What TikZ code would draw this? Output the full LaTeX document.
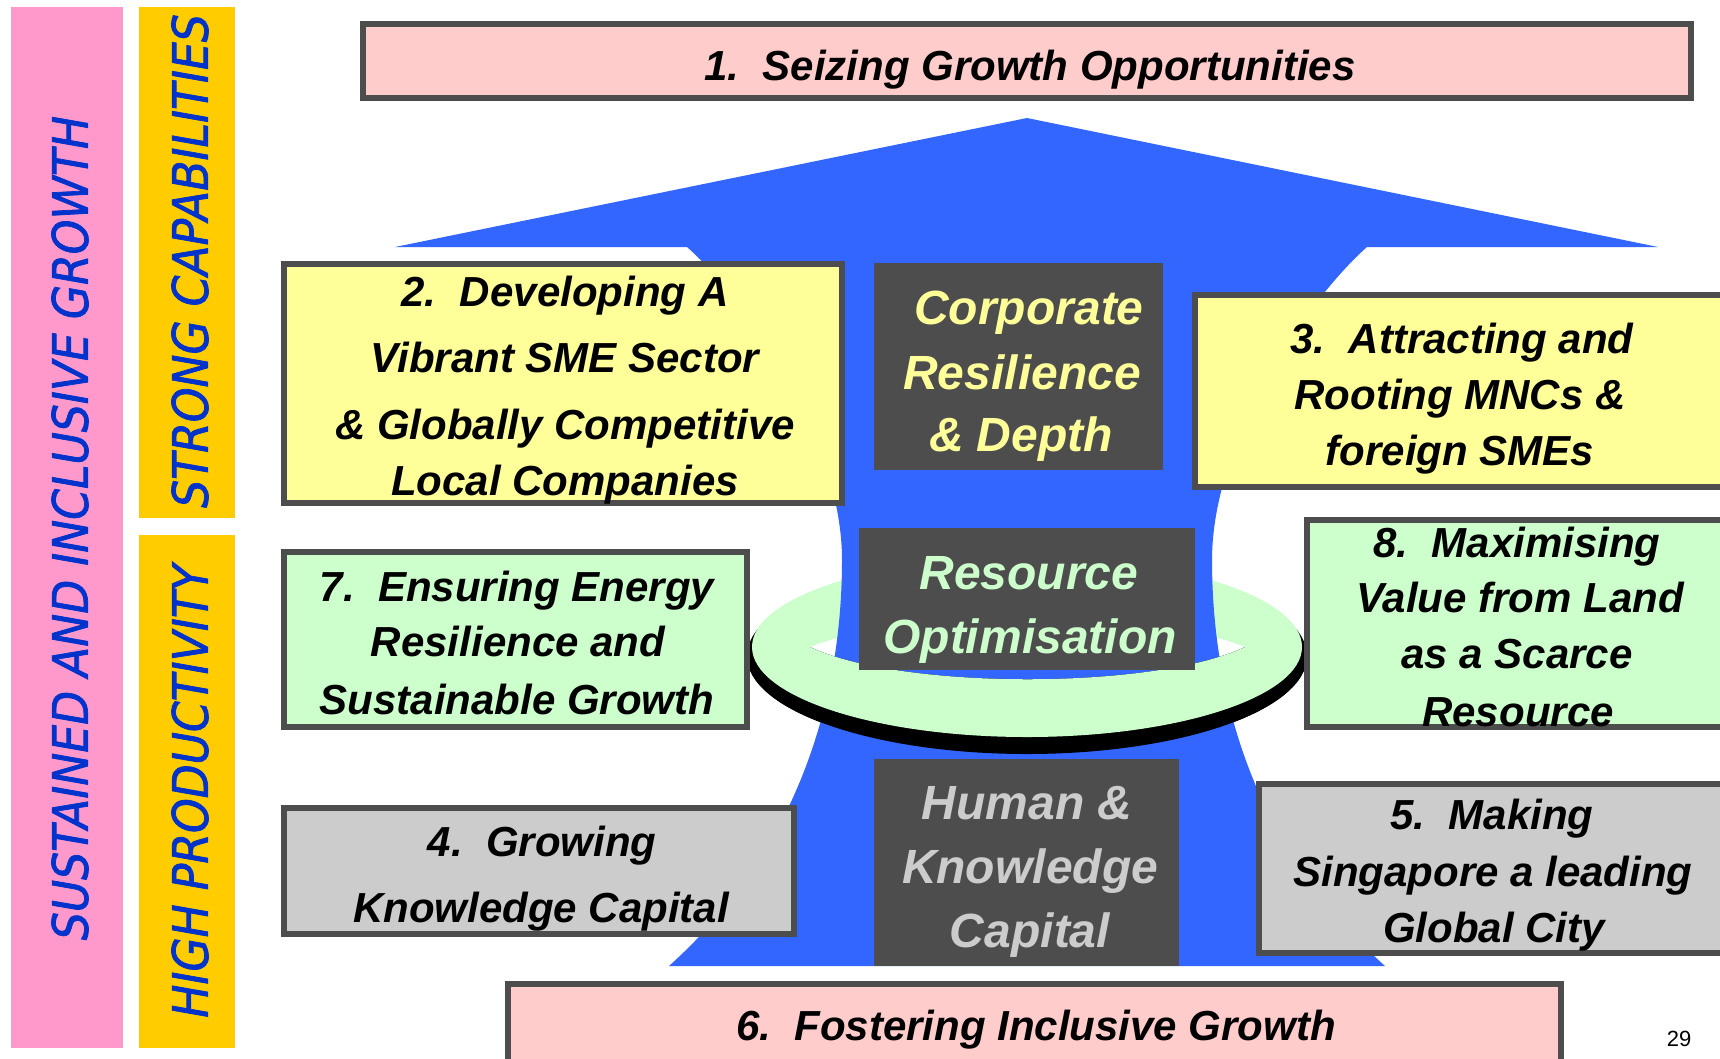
\documentclass[tikz,border=0pt]{standalone}
\usepackage{fontspec}
\setmainfont{Liberation Sans}
\newfontfamily\sidefont[FakeStretch=0.9,FakeBold=1.5]{DejaVu Sans}
\definecolor{pinkbar}{HTML}{FF99CC}
\definecolor{yellowbar}{HTML}{FFCC00}
\definecolor{sideblue}{HTML}{0033CC}
\definecolor{boxpink}{HTML}{FFCCCC}
\definecolor{boxyellow}{HTML}{FFFF99}
\definecolor{boxgreen}{HTML}{CCFFCC}
\definecolor{boxgray}{HTML}{CCCCCC}
\definecolor{bordc}{HTML}{4D4D4D}
\definecolor{darkc}{HTML}{4D4D4D}
\definecolor{arrowblue}{HTML}{3366FF}
\tikzset{
  lbl/.style={font=\bfseries\itshape\fontsize{42}{50}\selectfont, anchor=base, inner sep=0pt},
  dlbl/.style={font=\bfseries\itshape\fontsize{48}{56}\selectfont, anchor=base, inner sep=0pt},
  frame/.style={draw=bordc, line width=6pt, inner sep=0pt, outer sep=0pt},
  plain/.style={inner sep=0pt, outer sep=0pt},
  side/.style={font=\sidefont\itshape\fontsize{49}{55}\selectfont, text=sideblue, rotate=90, inner sep=0pt},
}
\begin{document}
\begin{tikzpicture}[x=1pt,y=-1pt]
\useasboundingbox (0,0) rectangle (1720,1058);
\clip (0,0) rectangle (1720,1058);
\fill[white] (0,0) rectangle (1720,1058);

% side bars
\node[plain, fill=pinkbar, minimum width=112pt, minimum height=1041pt] (pbar) at (67,527.5) {};
\node[plain, fill=yellowbar, minimum width=96pt, minimum height=511pt] (ybar1) at (187,262.5) {};
\node[plain, fill=yellowbar, minimum width=96pt, minimum height=513pt] (ybar2) at (187,791.5) {};
\node[side] (tsus) at (70,528) {SUSTAINED AND INCLUSIVE GROWTH};
\node[side] (tstr) at (190,261) {STRONG CAPABILITIES};
\node[side] (thig) at (190,791) {HIGH PRODUCTIVITY};

% ring (back)
\fill[black] (1027,656) ellipse [x radius=280pt, y radius=98pt];
\fill[boxgreen] (1027,647) ellipse [x radius=275pt, y radius=90pt];
\fill[white] (810,647) .. controls (900,610) and (1155,610) .. (1245,647)
             .. controls (1155,690) and (900,690) .. (810,647) -- cycle;

% blue arrow
\fill[arrowblue] (395,247) -- (1027,118) -- (1658,247) -- (1367,247)
  .. controls (1307,300) and (1212,440) .. (1212,560)
  .. controls (1212,680) and (1245,840) .. (1385,966)
  -- (669,966)
  .. controls (809,840) and (842,680) .. (842,560)
  .. controls (842,440) and (747,300) .. (687,247) -- cycle;

% ring (front)
\begin{scope}
\clip (700,647) -- (810,647) .. controls (900,690) and (1155,690) .. (1245,647)
      -- (1350,647) -- (1350,800) -- (700,800) -- cycle;
\fill[black] (1027,656) ellipse [x radius=280pt, y radius=98pt];
\fill[boxgreen] (1027,647) ellipse [x radius=275pt, y radius=90pt];
\end{scope}

% dark central boxes
\node[plain, fill=darkc, minimum width=289pt, minimum height=207pt] (corp) at (1018.5,366.5) {};
\node[dlbl, text=boxyellow] (corp1) at (1029,324) {Corporate};
\node[dlbl, text=boxyellow] (corp2) at (1022,389) {Resilience};
\node[dlbl, text=boxyellow] (corp3) at (1021,451) {\& Depth};

\node[plain, fill=darkc, minimum width=336pt, minimum height=142pt] (res) at (1027,599) {};
\node[dlbl, text=boxgreen] (res1) at (1029,589) {Resource};
\node[dlbl, text=boxgreen] (res2) at (1030,653) {Optimisation};

\node[plain, fill=darkc, minimum width=305pt, minimum height=207pt] (hum) at (1026.5,862.5) {};
\node[dlbl, text=boxgray] (hum1) at (1027,819) {Human \&};
\node[dlbl, text=boxgray] (hum2) at (1030,883) {Knowledge};
\node[dlbl, text=boxgray] (hum3) at (1030,947) {Capital};

% coloured boxes
\node[frame, fill=boxpink, minimum width=1328pt, minimum height=74pt] (b1) at (1027,61) {};
\node[lbl] (b1t) at (1030,80) {1.\ \ Seizing Growth Opportunities};

\node[frame, fill=boxyellow, minimum width=558pt, minimum height=239pt] (b2) at (563,383.5) {};
\node[lbl] (b2a) at (565,306) {2.\ \ Developing A};
\node[lbl] (b2b) at (565,372) {Vibrant SME Sector};
\node[lbl] (b2c) at (565,439) {\& Globally Competitive};
\node[lbl] (b2d) at (565,495) {Local Companies};

\node[frame, fill=boxyellow, minimum width=542pt, minimum height=192pt] (b3) at (1466,391) {};
\node[lbl] (b3a) at (1462,353) {3.\ \ Attracting and};
\node[lbl] (b3b) at (1460,409) {Rooting MNCs \&};
\node[lbl] (b3c) at (1460,465) {foreign SMEs};

\node[frame, fill=boxgreen, minimum width=463pt, minimum height=175pt] (b7) at (515.5,639.5) {};
\node[lbl] (b7a) at (517,601) {7.\ \ Ensuring Energy};
\node[lbl] (b7b) at (518,656) {Resilience and};
\node[lbl] (b7c) at (517,714) {Sustainable Growth};

\node[frame, fill=boxgreen, minimum width=430pt, minimum height=207pt] (b8) at (1522,623.5) {};
\node[lbl] (b8a) at (1517,557) {8.\ \ Maximising};
\node[lbl] (b8b) at (1520,612) {Value from Land};
\node[lbl] (b8c) at (1517,668) {as a Scarce};
\node[lbl] (b8d) at (1518,726) {Resource};

\node[frame, fill=boxgray, minimum width=510pt, minimum height=126pt] (b4) at (539,871) {};
\node[lbl] (b4a) at (542,856) {4.\ \ Growing};
\node[lbl] (b4b) at (541,922) {Knowledge Capital};

\node[frame, fill=boxgray, minimum width=478pt, minimum height=169pt] (b5) at (1498,868.5) {};
\node[lbl] (b5a) at (1492,829) {5.\ \ Making};
\node[lbl] (b5b) at (1493,886) {Singapore a leading};
\node[lbl] (b5c) at (1494,942) {Global City};

\node[frame, fill=boxpink, minimum width=1053pt, minimum height=93pt] (b6) at (1034.5,1030.5) {};
\node[lbl] (b6t) at (1036,1040) {6.\ \ Fostering Inclusive Growth};

\node[anchor=base, inner sep=0pt, font=\fontsize{22}{26}\selectfont] (pg) at (1679,1046) {29};
\end{tikzpicture}
\end{document}
